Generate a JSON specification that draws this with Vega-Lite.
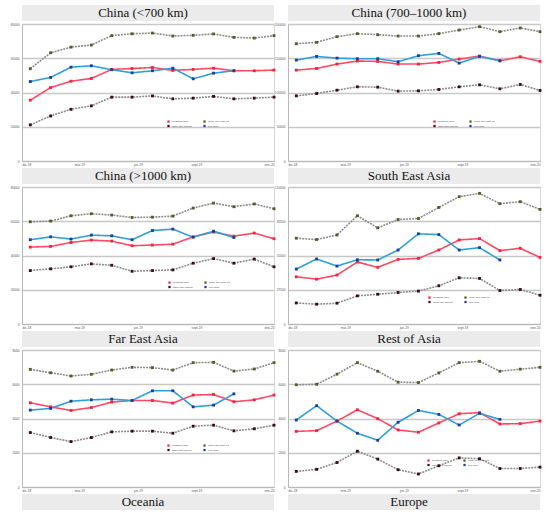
{
  "$schema": "https://vega.github.io/schema/vega-lite/v6.json",
  "description": "Predicted vs real values with 95% confidence intervals, by region.",
  "background": "white",
  "padding": {"left": 8, "top": 5, "right": 0, "bottom": 0},
  "data": {
    "format": {"parse": {"d": "date:'%Y-%m-%d'"}},
    "values": [
      {"p": "c1", "d": "2018-12-14", "pred": 35500, "lo": 21100, "up": 53900, "real": 46400},
      {"p": "c1", "d": "2019-01-15", "pred": 42900, "lo": 26300, "up": 63200, "real": 48800},
      {"p": "c1", "d": "2019-02-16", "pred": 46600, "lo": 30200, "up": 66500, "real": 54800},
      {"p": "c1", "d": "2019-03-20", "pred": 48200, "lo": 32200, "up": 67700, "real": 55600},
      {"p": "c1", "d": "2019-04-21", "pred": 53500, "lo": 37300, "up": 73200, "real": 53300},
      {"p": "c1", "d": "2019-05-23", "pred": 54000, "lo": 37300, "up": 74300, "real": 51500},
      {"p": "c1", "d": "2019-06-24", "pred": 54600, "lo": 38000, "up": 74700, "real": 52700},
      {"p": "c1", "d": "2019-07-26", "pred": 52900, "lo": 36300, "up": 73000, "real": 54200},
      {"p": "c1", "d": "2019-08-27", "pred": 53500, "lo": 36700, "up": 73400, "real": 48000},
      {"p": "c1", "d": "2019-09-28", "pred": 54200, "lo": 37700, "up": 74200, "real": 51300},
      {"p": "c1", "d": "2019-10-30", "pred": 52700, "lo": 36300, "up": 72200, "real": 52700},
      {"p": "c1", "d": "2019-12-01", "pred": 52700, "lo": 36700, "up": 71800, "real": null},
      {"p": "c1", "d": "2020-01-01", "pred": 53100, "lo": 37300, "up": 73200, "real": null},
      {"p": "c2", "d": "2018-12-14", "pred": 132700, "lo": 95100, "up": 171200, "real": 147300},
      {"p": "c2", "d": "2019-01-15", "pred": 135100, "lo": 98500, "up": 173200, "real": 152700},
      {"p": "c2", "d": "2019-02-16", "pred": 141500, "lo": 103400, "up": 181500, "real": 150200},
      {"p": "c2", "d": "2019-03-20", "pred": 145900, "lo": 108300, "up": 185900, "real": 149300},
      {"p": "c2", "d": "2019-04-21", "pred": 145400, "lo": 107800, "up": 184400, "real": 149300},
      {"p": "c2", "d": "2019-05-23", "pred": 141500, "lo": 102000, "up": 182400, "real": 144900},
      {"p": "c2", "d": "2019-06-24", "pred": 141500, "lo": 102400, "up": 182400, "real": 153700},
      {"p": "c2", "d": "2019-07-26", "pred": 143900, "lo": 104400, "up": 185900, "real": 157100},
      {"p": "c2", "d": "2019-08-27", "pred": 148800, "lo": 108300, "up": 191200, "real": 142900},
      {"p": "c2", "d": "2019-09-28", "pred": 153200, "lo": 111200, "up": 196100, "real": 152700},
      {"p": "c2", "d": "2019-10-30", "pred": 146300, "lo": 105400, "up": 188800, "real": 146300},
      {"p": "c2", "d": "2019-12-01", "pred": 152200, "lo": 111700, "up": 194200, "real": null},
      {"p": "c2", "d": "2020-01-01", "pred": 145400, "lo": 102900, "up": 188800, "real": null},
      {"p": "c3", "d": "2018-12-14", "pred": 44900, "lo": 31200, "up": 59700, "real": 49200},
      {"p": "c3", "d": "2019-01-15", "pred": 45300, "lo": 32200, "up": 60100, "real": 50900},
      {"p": "c3", "d": "2019-02-16", "pred": 47600, "lo": 33400, "up": 63200, "real": 49600},
      {"p": "c3", "d": "2019-03-20", "pred": 49000, "lo": 35100, "up": 64400, "real": 51900},
      {"p": "c3", "d": "2019-04-21", "pred": 48400, "lo": 34300, "up": 63600, "real": 51500},
      {"p": "c3", "d": "2019-05-23", "pred": 45700, "lo": 30800, "up": 62200, "real": 49200},
      {"p": "c3", "d": "2019-06-24", "pred": 46100, "lo": 31200, "up": 62400, "real": 54600},
      {"p": "c3", "d": "2019-07-26", "pred": 46600, "lo": 31600, "up": 63000, "real": 55400},
      {"p": "c3", "d": "2019-08-27", "pred": 50900, "lo": 35500, "up": 67700, "real": 50700},
      {"p": "c3", "d": "2019-09-28", "pred": 53700, "lo": 38200, "up": 70600, "real": 54200},
      {"p": "c3", "d": "2019-10-30", "pred": 51300, "lo": 35500, "up": 68500, "real": 50500},
      {"p": "c3", "d": "2019-12-01", "pred": 53100, "lo": 37900, "up": 70100, "real": null},
      {"p": "c3", "d": "2020-01-01", "pred": 49800, "lo": 33400, "up": 67300, "real": null},
      {"p": "c4", "d": "2018-12-14", "pred": 37900, "lo": 16900, "up": 68900, "real": 44100},
      {"p": "c4", "d": "2019-01-15", "pred": 36000, "lo": 15900, "up": 67800, "real": 52200},
      {"p": "c4", "d": "2019-02-16", "pred": 39300, "lo": 16700, "up": 71500, "real": 46500},
      {"p": "c4", "d": "2019-03-20", "pred": 49800, "lo": 22600, "up": 86900, "real": 51600},
      {"p": "c4", "d": "2019-04-21", "pred": 45500, "lo": 23900, "up": 77200, "real": 51400},
      {"p": "c4", "d": "2019-05-23", "pred": 51900, "lo": 25300, "up": 83900, "real": 59400},
      {"p": "c4", "d": "2019-06-24", "pred": 52700, "lo": 26400, "up": 84700, "real": 72400},
      {"p": "c4", "d": "2019-07-26", "pred": 59400, "lo": 30700, "up": 93600, "real": 71800},
      {"p": "c4", "d": "2019-08-27", "pred": 67500, "lo": 37100, "up": 102200, "real": 59400},
      {"p": "c4", "d": "2019-09-28", "pred": 68600, "lo": 36600, "up": 104900, "real": 61300},
      {"p": "c4", "d": "2019-10-30", "pred": 58900, "lo": 26900, "up": 96600, "real": 51400},
      {"p": "c4", "d": "2019-12-01", "pred": 60800, "lo": 27700, "up": 98200, "real": null},
      {"p": "c4", "d": "2020-01-01", "pred": 53500, "lo": 23100, "up": 92000, "real": null},
      {"p": "c5", "d": "2018-12-14", "pred": 4920, "lo": 3180, "up": 6870, "real": 4490},
      {"p": "c5", "d": "2019-01-15", "pred": 4680, "lo": 2890, "up": 6670, "real": 4590},
      {"p": "c5", "d": "2019-02-16", "pred": 4470, "lo": 2650, "up": 6480, "real": 5010},
      {"p": "c5", "d": "2019-03-20", "pred": 4640, "lo": 2890, "up": 6580, "real": 5090},
      {"p": "c5", "d": "2019-04-21", "pred": 4960, "lo": 3220, "up": 6830, "real": 5130},
      {"p": "c5", "d": "2019-05-23", "pred": 5050, "lo": 3260, "up": 6990, "real": 5050},
      {"p": "c5", "d": "2019-06-24", "pred": 5050, "lo": 3260, "up": 6970, "real": 5620},
      {"p": "c5", "d": "2019-07-26", "pred": 4900, "lo": 3140, "up": 6830, "real": 5620},
      {"p": "c5", "d": "2019-08-27", "pred": 5370, "lo": 3550, "up": 7260, "real": 4680},
      {"p": "c5", "d": "2019-09-28", "pred": 5400, "lo": 3610, "up": 7280, "real": 4780},
      {"p": "c5", "d": "2019-10-30", "pred": 4980, "lo": 3280, "up": 6770, "real": 5440},
      {"p": "c5", "d": "2019-12-01", "pred": 5090, "lo": 3400, "up": 6890, "real": null},
      {"p": "c5", "d": "2020-01-01", "pred": 5370, "lo": 3610, "up": 7260, "real": null},
      {"p": "c6", "d": "2018-12-14", "pred": 3250, "lo": 910, "up": 5970, "real": 3910},
      {"p": "c6", "d": "2019-01-15", "pred": 3290, "lo": 1030, "up": 6000, "real": 4750},
      {"p": "c6", "d": "2019-02-16", "pred": 3850, "lo": 1430, "up": 6590, "real": 3850},
      {"p": "c6", "d": "2019-03-20", "pred": 4510, "lo": 2090, "up": 7260, "real": 3140},
      {"p": "c6", "d": "2019-04-21", "pred": 3990, "lo": 1630, "up": 6760, "real": 2730},
      {"p": "c6", "d": "2019-05-23", "pred": 3330, "lo": 1010, "up": 6120, "real": 3780},
      {"p": "c6", "d": "2019-06-24", "pred": 3200, "lo": 760, "up": 6100, "real": 4470},
      {"p": "c6", "d": "2019-07-26", "pred": 3740, "lo": 1240, "up": 6660, "real": 4240},
      {"p": "c6", "d": "2019-08-27", "pred": 4280, "lo": 1700, "up": 7260, "real": 3620},
      {"p": "c6", "d": "2019-09-28", "pred": 4340, "lo": 1650, "up": 7340, "real": 4300},
      {"p": "c6", "d": "2019-10-30", "pred": 3680, "lo": 1080, "up": 6760, "real": 3950},
      {"p": "c6", "d": "2019-12-01", "pred": 3700, "lo": 1080, "up": 6880, "real": null},
      {"p": "c6", "d": "2020-01-01", "pred": 3850, "lo": 1160, "up": 6990, "real": null}
    ]
  },
  "columns": 2,
  "align": "each",
  "spacing": {"row": 0, "column": -5},
  "resolve": {
    "scale": {"x": "independent", "y": "independent", "color": "independent"},
    "legend": {"color": "independent"}
  },
  "concat": [
    {"data": {"values": [{"t": "China (<700 km)"}]}, "width": 252, "height": 16, "view": {"fill": "#ebebeb", "stroke": null},
     "mark": {"type": "text", "font": "Liberation Serif", "fontSize": 13, "color": "#111", "dx": -5}, "encoding": {"text": {"field": "t"}}},
    {"data": {"values": [{"t": "China (700–1000 km)"}]}, "width": 252, "height": 16, "view": {"fill": "#ebebeb", "stroke": null},
     "mark": {"type": "text", "font": "Liberation Serif", "fontSize": 13, "color": "#111", "dx": -5}, "encoding": {"text": {"field": "t"}}},
    {
      "width": 252, "height": 137,
      "transform": [{"filter": "datum.p == 'c1'"}, {"fold": ["pred", "lo", "up", "real"], "as": ["s", "v"]}, {"filter": "isValid(datum.v)"}],
      "encoding": {
        "x": {"field": "d", "type": "temporal", "scale": {"domain": [{"year": 2018, "month": 12, "date": 1}, {"year": 2020, "month": 1, "date": 1}]},
              "axis": {"values": [{"year": 2018, "month": 12, "date": 1}, {"year": 2019, "month": 3, "date": 1}, {"year": 2019, "month": 6, "date": 1}, {"year": 2019, "month": 9, "date": 1}, {"year": 2020, "month": 1, "date": 1}],
                       "labelExpr": "['ene','feb','mar','abr','may','jun','jul','ago','sept','oct','nov','dic'][month(datum.value)] + '-' + timeFormat(datum.value, '%y')"}},
        "y": {"field": "v", "type": "quantitative", "scale": {"domain": [0, 80000], "nice": false}, "axis": {"values": [0, 20000, 40000, 60000, 80000]}}
      },
      "layer": [
        {"mark": {"type": "line", "strokeWidth": 1.6},
         "encoding": {
           "detail": {"field": "s"},
           "stroke": {"condition": [{"test": "datum.s == 'pred'", "value": "#ff4a64"}, {"test": "datum.s == 'real'", "value": "#2f9fdc"}], "value": "#8c8c8c"},
           "strokeDash": {"condition": {"test": "datum.s == 'lo' || datum.s == 'up'", "value": [2, 1]}, "value": [1, 0]}}},
        {"mark": {"type": "point", "shape": "square", "filled": true, "size": 8, "opacity": 1},
         "encoding": {
           "color": {"field": "s", "type": "nominal", "scale": {"domain": ["pred", "lo", "up", "real"], "range": ["#ff1f3d", "#3a0a12", "#4d5f22", "#1a3c9e"]},
                    "legend": {"orient": "none", "legendX": 145, "legendY": 96, "title": null,
                               "labelExpr": "{'pred': 'predicted value', 'lo': 'lower 95% conf.int.', 'up': 'upper 95% conf. int.', 'real': 'real value'}[datum.label]"}}}}
      ]
    },
    {
      "width": 252, "height": 137,
      "transform": [{"filter": "datum.p == 'c2'"}, {"fold": ["pred", "lo", "up", "real"], "as": ["s", "v"]}, {"filter": "isValid(datum.v)"}],
      "encoding": {
        "x": {"field": "d", "type": "temporal", "scale": {"domain": [{"year": 2018, "month": 12, "date": 1}, {"year": 2020, "month": 1, "date": 1}]},
              "axis": {"values": [{"year": 2018, "month": 12, "date": 1}, {"year": 2019, "month": 3, "date": 1}, {"year": 2019, "month": 6, "date": 1}, {"year": 2019, "month": 9, "date": 1}, {"year": 2020, "month": 1, "date": 1}],
                       "labelExpr": "['ene','feb','mar','abr','may','jun','jul','ago','sept','oct','nov','dic'][month(datum.value)] + '-' + timeFormat(datum.value, '%y')"}},
        "y": {"field": "v", "type": "quantitative", "scale": {"domain": [0, 200000], "nice": false}, "axis": {"values": [0, 50000, 100000, 150000, 200000]}}
      },
      "layer": [
        {"mark": {"type": "line", "strokeWidth": 1.6},
         "encoding": {
           "detail": {"field": "s"},
           "stroke": {"condition": [{"test": "datum.s == 'pred'", "value": "#ff4a64"}, {"test": "datum.s == 'real'", "value": "#2f9fdc"}], "value": "#8c8c8c"},
           "strokeDash": {"condition": {"test": "datum.s == 'lo' || datum.s == 'up'", "value": [2, 1]}, "value": [1, 0]}}},
        {"mark": {"type": "point", "shape": "square", "filled": true, "size": 8, "opacity": 1},
         "encoding": {
           "color": {"field": "s", "type": "nominal", "scale": {"domain": ["pred", "lo", "up", "real"], "range": ["#ff1f3d", "#3a0a12", "#4d5f22", "#1a3c9e"]},
                    "legend": {"orient": "none", "legendX": 145, "legendY": 96, "title": null,
                               "labelExpr": "{'pred': 'predicted value', 'lo': 'lower 95% conf.int.', 'up': 'upper 95% conf. int.', 'real': 'real value'}[datum.label]"}}}}
      ]
    },
    {"data": {"values": [{"t": "China (>1000 km)"}]}, "width": 252, "height": 16, "view": {"fill": "#ebebeb", "stroke": null},
     "mark": {"type": "text", "font": "Liberation Serif", "fontSize": 13, "color": "#111", "dx": -5}, "encoding": {"text": {"field": "t"}}},
    {"data": {"values": [{"t": "South East Asia"}]}, "width": 252, "height": 16, "view": {"fill": "#ebebeb", "stroke": null},
     "mark": {"type": "text", "font": "Liberation Serif", "fontSize": 13, "color": "#111", "dx": -5}, "encoding": {"text": {"field": "t"}}},
    {
      "width": 252, "height": 137,
      "transform": [{"filter": "datum.p == 'c3'"}, {"fold": ["pred", "lo", "up", "real"], "as": ["s", "v"]}, {"filter": "isValid(datum.v)"}],
      "encoding": {
        "x": {"field": "d", "type": "temporal", "scale": {"domain": [{"year": 2018, "month": 12, "date": 1}, {"year": 2020, "month": 1, "date": 1}]},
              "axis": {"values": [{"year": 2018, "month": 12, "date": 1}, {"year": 2019, "month": 3, "date": 1}, {"year": 2019, "month": 6, "date": 1}, {"year": 2019, "month": 9, "date": 1}, {"year": 2020, "month": 1, "date": 1}],
                       "labelExpr": "['ene','feb','mar','abr','may','jun','jul','ago','sept','oct','nov','dic'][month(datum.value)] + '-' + timeFormat(datum.value, '%y')"}},
        "y": {"field": "v", "type": "quantitative", "scale": {"domain": [0, 80000], "nice": false}, "axis": {"values": [0, 20000, 40000, 60000, 80000]}}
      },
      "layer": [
        {"mark": {"type": "line", "strokeWidth": 1.6},
         "encoding": {
           "detail": {"field": "s"},
           "stroke": {"condition": [{"test": "datum.s == 'pred'", "value": "#ff4a64"}, {"test": "datum.s == 'real'", "value": "#2f9fdc"}], "value": "#8c8c8c"},
           "strokeDash": {"condition": {"test": "datum.s == 'lo' || datum.s == 'up'", "value": [2, 1]}, "value": [1, 0]}}},
        {"mark": {"type": "point", "shape": "square", "filled": true, "size": 8, "opacity": 1},
         "encoding": {
           "color": {"field": "s", "type": "nominal", "scale": {"domain": ["pred", "lo", "up", "real"], "range": ["#ff1f3d", "#3a0a12", "#4d5f22", "#1a3c9e"]},
                    "legend": {"orient": "none", "legendX": 146, "legendY": 94, "title": null,
                               "labelExpr": "{'pred': 'predicted value', 'lo': 'lower 95% conf.int.', 'up': 'upper 95% conf. int.', 'real': 'real value'}[datum.label]"}}}}
      ]
    },
    {
      "width": 252, "height": 137,
      "transform": [{"filter": "datum.p == 'c4'"}, {"fold": ["pred", "lo", "up", "real"], "as": ["s", "v"]}, {"filter": "isValid(datum.v)"}],
      "encoding": {
        "x": {"field": "d", "type": "temporal", "scale": {"domain": [{"year": 2018, "month": 12, "date": 1}, {"year": 2020, "month": 1, "date": 1}]},
              "axis": {"values": [{"year": 2018, "month": 12, "date": 1}, {"year": 2019, "month": 3, "date": 1}, {"year": 2019, "month": 6, "date": 1}, {"year": 2019, "month": 9, "date": 1}, {"year": 2020, "month": 1, "date": 1}],
                       "labelExpr": "['ene','feb','mar','abr','may','jun','jul','ago','sept','oct','nov','dic'][month(datum.value)] + '-' + timeFormat(datum.value, '%y')"}},
        "y": {"field": "v", "type": "quantitative", "scale": {"domain": [0, 110000], "nice": false}, "axis": {"values": [0, 27500, 55000, 82500, 110000]}}
      },
      "layer": [
        {"mark": {"type": "line", "strokeWidth": 1.6},
         "encoding": {
           "detail": {"field": "s"},
           "stroke": {"condition": [{"test": "datum.s == 'pred'", "value": "#ff4a64"}, {"test": "datum.s == 'real'", "value": "#2f9fdc"}], "value": "#8c8c8c"},
           "strokeDash": {"condition": {"test": "datum.s == 'lo' || datum.s == 'up'", "value": [2, 1]}, "value": [1, 0]}}},
        {"mark": {"type": "point", "shape": "square", "filled": true, "size": 8, "opacity": 1},
         "encoding": {
           "color": {"field": "s", "type": "nominal", "scale": {"domain": ["pred", "lo", "up", "real"], "range": ["#ff1f3d", "#3a0a12", "#4d5f22", "#1a3c9e"]},
                    "legend": {"orient": "none", "legendX": 140, "legendY": 109, "title": null,
                               "labelExpr": "{'pred': 'predicted value', 'lo': 'lower 95% conf.int.', 'up': 'upper 95% conf. int.', 'real': 'real value'}[datum.label]"}}}}
      ]
    },
    {"data": {"values": [{"t": "Far East Asia"}]}, "width": 252, "height": 16, "view": {"fill": "#ebebeb", "stroke": null},
     "mark": {"type": "text", "font": "Liberation Serif", "fontSize": 13, "color": "#111", "dx": -5}, "encoding": {"text": {"field": "t"}}},
    {"data": {"values": [{"t": "Rest of Asia"}]}, "width": 252, "height": 16, "view": {"fill": "#ebebeb", "stroke": null},
     "mark": {"type": "text", "font": "Liberation Serif", "fontSize": 13, "color": "#111", "dx": -5}, "encoding": {"text": {"field": "t"}}},
    {
      "width": 252, "height": 137,
      "transform": [{"filter": "datum.p == 'c5'"}, {"fold": ["pred", "lo", "up", "real"], "as": ["s", "v"]}, {"filter": "isValid(datum.v)"}],
      "encoding": {
        "x": {"field": "d", "type": "temporal", "scale": {"domain": [{"year": 2018, "month": 12, "date": 1}, {"year": 2020, "month": 1, "date": 1}]},
              "axis": {"values": [{"year": 2018, "month": 12, "date": 1}, {"year": 2019, "month": 3, "date": 1}, {"year": 2019, "month": 6, "date": 1}, {"year": 2019, "month": 9, "date": 1}, {"year": 2020, "month": 1, "date": 1}],
                       "labelExpr": "['ene','feb','mar','abr','may','jun','jul','ago','sept','oct','nov','dic'][month(datum.value)] + '-' + timeFormat(datum.value, '%y')"}},
        "y": {"field": "v", "type": "quantitative", "scale": {"domain": [0, 8000], "nice": false}, "axis": {"values": [0, 2000, 4000, 6000, 8000]}}
      },
      "layer": [
        {"mark": {"type": "line", "strokeWidth": 1.6},
         "encoding": {
           "detail": {"field": "s"},
           "stroke": {"condition": [{"test": "datum.s == 'pred'", "value": "#ff4a64"}, {"test": "datum.s == 'real'", "value": "#2f9fdc"}], "value": "#8c8c8c"},
           "strokeDash": {"condition": {"test": "datum.s == 'lo' || datum.s == 'up'", "value": [2, 1]}, "value": [1, 0]}}},
        {"mark": {"type": "point", "shape": "square", "filled": true, "size": 8, "opacity": 1},
         "encoding": {
           "color": {"field": "s", "type": "nominal", "scale": {"domain": ["pred", "lo", "up", "real"], "range": ["#ff1f3d", "#3a0a12", "#4d5f22", "#1a3c9e"]},
                    "legend": {"orient": "none", "legendX": 145, "legendY": 94, "title": null,
                               "labelExpr": "{'pred': 'predicted value', 'lo': 'lower 95% conf.int.', 'up': 'upper 95% conf. int.', 'real': 'real value'}[datum.label]"}}}}
      ]
    },
    {
      "width": 252, "height": 137,
      "transform": [{"filter": "datum.p == 'c6'"}, {"fold": ["pred", "lo", "up", "real"], "as": ["s", "v"]}, {"filter": "isValid(datum.v)"}],
      "encoding": {
        "x": {"field": "d", "type": "temporal", "scale": {"domain": [{"year": 2018, "month": 12, "date": 1}, {"year": 2020, "month": 1, "date": 1}]},
              "axis": {"values": [{"year": 2018, "month": 12, "date": 1}, {"year": 2019, "month": 3, "date": 1}, {"year": 2019, "month": 6, "date": 1}, {"year": 2019, "month": 9, "date": 1}, {"year": 2020, "month": 1, "date": 1}],
                       "labelExpr": "['ene','feb','mar','abr','may','jun','jul','ago','sept','oct','nov','dic'][month(datum.value)] + '-' + timeFormat(datum.value, '%y')"}},
        "y": {"field": "v", "type": "quantitative", "scale": {"domain": [0, 8000], "nice": false}, "axis": {"values": [0, 2000, 4000, 6000, 8000]}}
      },
      "layer": [
        {"mark": {"type": "line", "strokeWidth": 1.6},
         "encoding": {
           "detail": {"field": "s"},
           "stroke": {"condition": [{"test": "datum.s == 'pred'", "value": "#ff4a64"}, {"test": "datum.s == 'real'", "value": "#2f9fdc"}], "value": "#8c8c8c"},
           "strokeDash": {"condition": {"test": "datum.s == 'lo' || datum.s == 'up'", "value": [2, 1]}, "value": [1, 0]}}},
        {"mark": {"type": "point", "shape": "square", "filled": true, "size": 8, "opacity": 1},
         "encoding": {
           "color": {"field": "s", "type": "nominal", "scale": {"domain": ["pred", "lo", "up", "real"], "range": ["#ff1f3d", "#3a0a12", "#4d5f22", "#1a3c9e"]},
                    "legend": {"orient": "none", "legendX": 139, "legendY": 109, "title": null,
                               "labelExpr": "{'pred': 'predicted value', 'lo': 'lower 95% conf.int.', 'up': 'upper 95% conf. int.', 'real': 'real value'}[datum.label]"}}}}
      ]
    },
    {"data": {"values": [{"t": "Oceania"}]}, "width": 252, "height": 16, "view": {"fill": "#ebebeb", "stroke": null},
     "mark": {"type": "text", "font": "Liberation Serif", "fontSize": 13, "color": "#111", "dx": -5}, "encoding": {"text": {"field": "t"}}},
    {"data": {"values": [{"t": "Europe"}]}, "width": 252, "height": 16, "view": {"fill": "#ebebeb", "stroke": null},
     "mark": {"type": "text", "font": "Liberation Serif", "fontSize": 13, "color": "#111", "dx": -5}, "encoding": {"text": {"field": "t"}}}
  ],
  "config": {
    "font": "Liberation Sans",
    "view": {"stroke": "#d6d6d6", "fill": "white"},
    "axis": {"title": null, "labelFontSize": 3.2, "labelColor": "#555", "ticks": false, "domainColor": "#b8b8b8"},
    "axisX": {"grid": false, "labelPadding": 1.5, "labelFlush": true, "minExtent": 6, "maxExtent": 6},
    "axisY": {"grid": true, "gridColor": "#c8c8c8", "gridWidth": 1.5, "format": "d", "labelPadding": 3, "minExtent": 13, "maxExtent": 13},
    "legend": {
      "columns": 2,
      "labelFontSize": 2.4,
      "labelColor": "#333",
      "symbolType": "square",
      "symbolSize": 5,
      "symbolStrokeWidth": 0,
      "labelOffset": 2,
      "rowPadding": 1.5,
      "columnPadding": 10,
      "padding": 0
    }
  }
}
